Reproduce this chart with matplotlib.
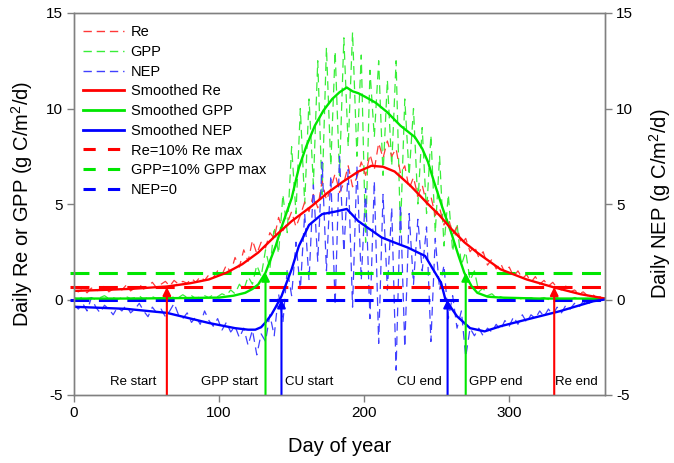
import numpy as np
import matplotlib
matplotlib.use("Agg")
import matplotlib.pyplot as plt
from matplotlib.lines import Line2D

plt.rcParams['font.family'] = ['Liberation Sans', 'DejaVu Sans']
plt.rcParams['mathtext.default'] = 'regular'
plt.rcParams['axes.unicode_minus'] = False

# ---------------- data ----------------
raw_days = np.arange(0, 367, 3)

raw_re = [
    0.5, 0.4, 0.55, 0.35, 0.6, 0.45, 0.5, 0.7, 0.4, 0.55,
    0.65, 0.5, 0.75, 0.45, 0.6, 0.8, 0.55, 0.7, 0.9, 0.6,
    0.8, 0.95, 0.7, 1.0, 0.8, 0.95, 0.85, 1.1, 0.9, 1.2,
    1.0, 1.3, 1.15, 1.5, 1.3, 1.8, 1.4, 2.2, 1.7, 2.6,
    2.0, 3.1, 2.4, 3.0, 2.7, 3.5, 3.2, 4.3, 3.6, 4.0,
    4.6, 3.8, 4.4, 5.1, 4.6, 5.5, 4.8, 6.2, 5.2, 5.8,
    6.6, 5.6, 6.1, 7.0, 5.9, 6.4, 7.2, 6.5, 7.6, 6.8,
    8.2, 7.4, 8.3, 7.5, 7.9, 6.6, 7.0, 5.8, 6.4, 5.4,
    6.0, 5.0, 5.4, 4.4, 4.8, 3.9, 4.3, 3.4, 3.8, 2.9,
    3.2, 2.5, 2.8, 2.2, 2.5, 1.8, 2.1, 1.6, 1.9, 1.4,
    1.7, 1.2, 1.5, 1.1, 1.3, 0.9, 1.2, 0.8, 1.0, 0.7,
    0.9, 0.6, 0.5, 0.7, 0.4, 0.5, 0.3, 0.4, 0.2, 0.3,
    0.1, 0.15, 0.05,
]

raw_gpp = [
    0.1, 0.0, 0.15, 0.05, 0.1, 0.0, 0.1, 0.2, 0.05, 0.1,
    0.0, 0.1, 0.15, 0.05, 0.1, 0.2, 0.0, 0.1, 0.15, 0.05,
    0.1, 0.2, 0.05, 0.15, 0.1, 0.25, 0.1, 0.2, 0.05, 0.15,
    0.2, 0.1, 0.25, 0.15, 0.3, 0.2, 0.5, 0.3, 0.8, 0.5,
    1.2, 0.8, 1.8, 1.2, 2.6, 1.6, 3.8, 2.4, 5.5, 3.5,
    8.0, 4.5, 10.0, 5.0, 10.5, 6.0, 12.5, 5.5, 13.2, 7.0,
    13.0, 6.5, 13.7, 8.0, 14.0, 7.5, 12.8, 3.0, 12.0, 8.5,
    12.5, 6.5, 11.5, 7.0, 12.5, 3.5, 10.5, 6.5, 10.0, 5.0,
    9.0, 4.5, 8.6, 3.5, 7.5, 2.8, 5.5, 2.5, 4.0, 1.8,
    2.5, 1.0, 1.5, 0.4, 0.6, 0.2, 0.3, 0.1, 0.15, 0.05,
    0.1, 0.05, 0.1, 0.0, 0.05, 0.1, 0.0, 0.05, 0.1, 0.0,
    0.05, 0.1, 0.0, 0.05, 0.0, 0.1, 0.05, 0.0, 0.05, 0.0,
    0.05, 0.0, 0.05,
]

raw_nep = [
    -0.3, -0.5, -0.2, -0.6, 0.1, -0.4, -0.7, -0.3, -0.5, -0.8,
    -0.4, -0.6, -0.3, -0.7, -0.5, -0.2, -0.6, -0.9, -0.4, -0.7,
    -0.5, -0.9, -0.6, -0.2, -0.8, -1.0, -0.7, -1.2, -0.9, -1.3,
    -0.6, -1.1, -1.4, -1.0, -1.6, -1.2, -1.7, -1.4, -2.0, -1.5,
    -2.4, -1.6, -2.9, -1.8, -2.2, -0.8, -1.9, 0.3, -1.2, 1.6,
    0.2, 3.0, 0.5, 4.5, 1.0, 6.0, 2.0, 7.2, 1.5, 6.5,
    -0.3, 7.5, 2.5, 6.8, -0.4, 7.0, 1.0, 5.8, -1.0, 6.2,
    -2.3, 5.5, 0.5, 4.8, -3.7, 5.0, -2.5, 4.5, 0.8, 4.2,
    1.5, 3.8, -2.2, 3.2, 0.5, 1.8, -1.0, 0.2, -1.5, -0.6,
    -3.0, -1.5, -1.9, -1.5, -1.9, -1.5, -1.7, -1.3, -1.6, -1.1,
    -1.4, -0.9, -1.3, -0.8, -1.2, -0.8, -1.0, -0.6, -0.9, -0.5,
    -0.8, -0.4, -0.7, -0.3, -0.5, -0.2, -0.4, -0.1, -0.3, 0.0,
    -0.1, 0.05, 0.0,
]

sm_re_days = [0, 20, 40, 64, 80, 93, 105, 116, 127, 139, 150, 164, 175, 186,
              196, 205, 213, 221, 232, 244, 252, 260, 269, 278, 294, 312, 331,
              349, 366]
sm_re = [0.45, 0.5, 0.56, 0.68, 0.85, 1.05, 1.4, 1.85, 2.46, 3.35, 4.1, 4.9,
         5.6, 6.2, 6.7, 7.0, 6.95, 6.7, 5.95, 5.0, 4.4, 3.7, 3.0, 2.45, 1.58,
         1.05, 0.63, 0.28, 0.05]

sm_gpp_days = [0, 40, 80, 100, 110, 118, 123, 127, 132, 139, 144, 150, 155,
               160, 166, 172, 178, 183, 188, 192, 196, 201, 208, 216, 225, 235,
               240, 244, 248, 254, 260, 265, 269, 274, 278, 285, 294, 320, 366]
sm_gpp = [0.05, 0.05, 0.08, 0.1, 0.2, 0.35, 0.55, 0.79, 1.4, 2.8, 4.0, 5.3,
          6.9, 8.0, 9.1, 9.9, 10.5, 10.85, 11.1, 10.9, 10.8, 10.6, 10.3, 9.8,
          9.1, 8.5, 7.9, 7.2, 6.2, 4.8, 3.5, 2.3, 1.4, 0.7, 0.35, 0.15, 0.1,
          0.05, 0.05]

sm_nep_days = [0, 36, 64, 93, 111, 120, 125, 129, 132, 136, 139, 143, 150, 155,
               162, 171, 180, 188, 196, 212, 221, 230, 242, 253, 256, 264, 273,
               283, 294, 312, 335, 358, 366]
sm_nep = [-0.38, -0.49, -0.7, -1.23, -1.5, -1.58, -1.58, -1.45, -1.2, -0.8,
          -0.4, 0.17, 1.58, 2.8, 3.9, 4.47, 4.6, 4.74, 4.1, 3.25, 2.98, 2.72,
          2.28, 0.88, 0.0, -0.88, -1.5, -1.67, -1.4, -1.05, -0.61, -0.09, 0.0]

re_thresh = 0.65
gpp_thresh = 1.4
nep_thresh = 0.0

event_labels = ["Re start", "GPP start", "CU start", "CU end", "GPP end", "Re end"]
event_days = [64, 132, 143, 257.5, 270, 331]
event_levels = [re_thresh, gpp_thresh, nep_thresh, nep_thresh, gpp_thresh, re_thresh]
event_label_x = [40.7, 107, 162, 238, 290.5, 346.5]

# ---------------- style ----------------
RED = '#FF0000'
GREEN = '#00E600'
BLUE = '#0000FF'
RAW_RED = '#FF3838'
RAW_GREEN = '#38EE38'
RAW_BLUE = '#4040FF'
event_colors = [RED, GREEN, BLUE, BLUE, GREEN, RED]

fig = plt.figure(figsize=(6.74, 4.63), dpi=100)
ax = fig.add_axes([74 / 674, 1 - 395 / 463, (605 - 74) / 674, (395 - 13) / 463])

raw_kw = dict(lw=0.9, dashes=(7, 4.5))
l_gpp, = ax.plot(raw_days, raw_gpp, color=RAW_GREEN, label='GPP', **raw_kw)
l_re, = ax.plot(raw_days, raw_re, color=RAW_RED, label='Re', **raw_kw)
l_nep, = ax.plot(raw_days, raw_nep, color=RAW_BLUE, label='NEP', **raw_kw)

th_kw = dict(lw=2.2, dashes=(6.2, 3.1), clip_on=False)
t_gpp, = ax.plot([-3, 369], [gpp_thresh, gpp_thresh], color=GREEN, label='GPP=10% GPP max', **th_kw)
t_re, = ax.plot([-3, 369], [re_thresh, re_thresh], color=RED, label='Re=10% Re max', **th_kw)
t_nep, = ax.plot([-3, 369], [nep_thresh, nep_thresh], color=BLUE, label='NEP=0', **th_kw)

s_gpp, = ax.plot(sm_gpp_days, sm_gpp, color=GREEN, lw=1.7, label='Smoothed GPP')
s_re, = ax.plot(sm_re_days, sm_re, color=RED, lw=1.7, label='Smoothed Re')
s_nep, = ax.plot(sm_nep_days, sm_nep, color=BLUE, lw=1.7, label='Smoothed NEP')

for d, lvl, c, lab, lx in zip(event_days, event_levels, event_colors, event_labels, event_label_x):
    ax.annotate('', xy=(d, lvl), xytext=(d, -5),
                arrowprops=dict(arrowstyle='-|>', color=c, lw=1.5,
                                mutation_scale=12, shrinkA=0, shrinkB=0))
    ax.text(lx, -4.3, lab, ha='center', va='center', fontsize=9.5, color='black')

ax.set_xlim(0, 366)
ax.set_ylim(-5, 15)
ax.set_xticks([0, 100, 200, 300])
ax.set_yticks([-5, 0, 5, 10, 15])
ax.set_xlabel('Day of year', fontsize=14.5, labelpad=12)
ax.set_ylabel('Daily Re or GPP (g C/m$^2$/d)', fontsize=14.5, labelpad=8)

ax2 = ax.twinx()
ax2.set_ylim(-5, 15)
ax2.set_yticks([-5, 0, 5, 10, 15])
ax2.set_ylabel('Daily NEP (g C/m$^2$/d)', fontsize=14.5, labelpad=10)

for a in (ax, ax2):
    for sp in a.spines.values():
        sp.set_color('#808080')
        sp.set_linewidth(1.0)
    a.tick_params(axis='both', direction='out', length=5, width=1.0,
                  color='#808080', labelsize=11, pad=3)

handles = [l_re, l_gpp, l_nep, s_re, s_gpp, s_nep, t_re, t_gpp, t_nep]
leg_handles = []
for h in handles:
    if h in (l_re, l_gpp, l_nep):
        leg_handles.append(Line2D([], [], color=h.get_color(), lw=1.0, dashes=(6, 3.5), label=h.get_label()))
    elif h in (t_re, t_gpp, t_nep):
        leg_handles.append(Line2D([], [], color=h.get_color(), lw=2.2, dashes=(4, 4), label=h.get_label()))
    else:
        leg_handles.append(Line2D([], [], color=h.get_color(), lw=2.0, label=h.get_label()))
ax.legend(handles=leg_handles, loc='upper left', frameon=False, fontsize=10.5,
          handlelength=2.8, handletextpad=0.45, labelspacing=0.39,
          borderaxespad=0.45, borderpad=0.4, bbox_to_anchor=(-0.006, 1.0))

fig.savefig('out.png', dpi=100)
